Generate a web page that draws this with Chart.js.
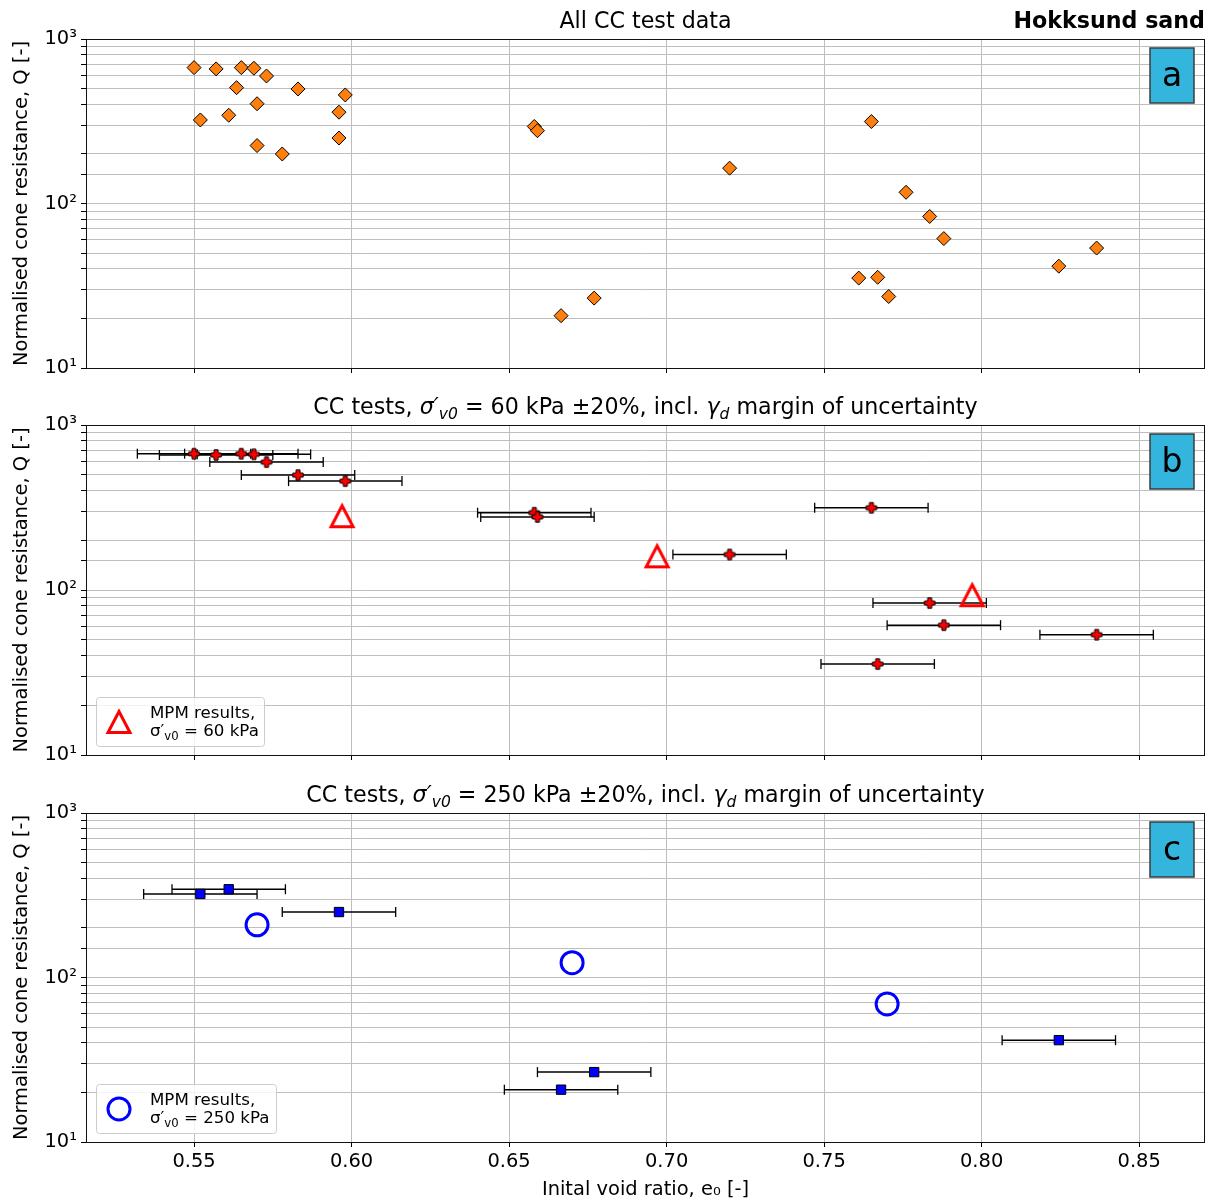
<!DOCTYPE html>
<html lang="en">
<head>
  <meta charset="UTF-8">
  <title>Hokksund sand - CC test data</title>
  <script src="https://cdn.jsdelivr.net/npm/chart.js@4"></script>
  <style>
    html, body { margin: 0; padding: 0; background: #fff; }
    #wrap { position: relative; width: 1214px; height: 1202px; }
    #wrap canvas { position: absolute; left: 0; }
    #panelA { top: 0; }
    #panelB { top: 390px; }
    #panelC { top: 780px; }
  </style>
</head>
<body>
  <div id="wrap">
    <canvas id="panelA" width="1214" height="390"></canvas>
    <canvas id="panelB" width="1214" height="390"></canvas>
    <canvas id="panelC" width="1214" height="422"></canvas>
  </div>

  <script>
    const FONT = "'DejaVu Sans', sans-serif";
    const LABEL_PX = 19.44;
    const TITLE_PX = 22.2;
    const LEGEND_PX = 16.67;
    const LETTER_PX = 33;

    // axis limits
    const X_MIN = 0.5157, X_MAX = 0.8709, X_STEP = 0.05;
    const Q_MIN = 10, Q_MAX = 1000;
    const Y_LABELS = { 10: '10¹', 100: '10²', 1000: '10³' };

    // all CC tests: initial void ratio e0 and normalised cone resistance Q
    const allE = [0.550, 0.557, 0.565, 0.569, 0.573, 0.5635, 0.583, 0.598, 0.570, 0.552,
                  0.561, 0.596, 0.596, 0.570, 0.578, 0.658, 0.659, 0.6665, 0.677, 0.720,
                  0.765, 0.776, 0.7835, 0.788, 0.761, 0.767, 0.7705, 0.8245, 0.8365];
    const allQ = [670, 658, 670, 664, 596, 506, 497, 457, 404, 322,
                  344, 359, 250, 225, 200, 294, 277, 20.8, 26.6, 164,
                  315, 117, 83.4, 61.2, 35.2, 35.6, 27.2, 41.6, 53.6];

    // CC tests at sigma'v0 = 60 kPa
    const e60 = [0.550, 0.557, 0.565, 0.569, 0.573, 0.583, 0.598, 0.658, 0.659, 0.720, 0.765, 0.7835, 0.788, 0.767, 0.8365];
    const q60 = [670, 658, 670, 664, 596, 497, 457, 294, 277, 164, 315, 83.4, 61.2, 35.6, 53.6];

    // CC tests at sigma'v0 = 250 kPa
    const e250 = [0.552, 0.561, 0.596, 0.6665, 0.677, 0.8245];
    const q250 = [322, 344, 250, 20.8, 26.6, 41.6];

    // MPM results
    const mpm60E = [0.597, 0.697, 0.797];
    const mpm60Q = [280, 160, 93];
    const mpm250E = [0.570, 0.670, 0.770];
    const mpm250Q = [209, 123, 69];

    // e0 margin from the gamma_d uncertainty
    const xErr = 0.018;

    // ---- marker images ----
    function plusMarker() {
      const c = document.createElement('canvas');
      c.width = 14; c.height = 14;
      const g = c.getContext('2d');
      const m = 7, a = 5.2, t = 2;
      const pts = [[-t,-a],[t,-a],[t,-t],[a,-t],[a,t],[t,t],[t,a],[-t,a],[-t,t],[-a,t],[-a,-t],[-t,-t]];
      g.beginPath();
      pts.forEach(([px, py], i) => i ? g.lineTo(m + px, m + py) : g.moveTo(m + px, m + py));
      g.closePath();
      g.fillStyle = '#ff0000';
      g.fill();
      g.lineWidth = 1;
      g.strokeStyle = '#000';
      g.stroke();
      return c;
    }

    function triangleMarker() {
      const c = document.createElement('canvas');
      c.width = 34; c.height = 32;
      const g = c.getContext('2d');
      const cx = 17, cy = 16, hw = 11, hh = 10.5;
      g.beginPath();
      g.moveTo(cx, cy - hh);
      g.lineTo(cx + hw, cy + hh);
      g.lineTo(cx - hw, cy + hh);
      g.closePath();
      g.lineWidth = 3;
      g.lineJoin = 'miter';
      g.strokeStyle = '#ff0000';
      g.stroke();
      return c;
    }

    const PLUS = plusMarker();
    const TRIANGLE = triangleMarker();

    // ---- text helpers ----
    function richFont(s, size) {
      const px = s.sub ? size * 0.7 : size;
      return (s.italic ? 'italic ' : '') + (s.bold ? 'bold ' : '') + px + 'px ' + FONT;
    }

    function drawRich(ctx, segs, x, y, size, align) {
      let total = 0;
      const widths = segs.map(s => {
        ctx.font = richFont(s, size);
        const w = ctx.measureText(s.t).width;
        total += w;
        return w;
      });
      let cx = align === 'center' ? x - total / 2 : align === 'right' ? x - total : x;
      ctx.textAlign = 'left';
      ctx.textBaseline = 'alphabetic';
      ctx.fillStyle = '#000';
      segs.forEach((s, i) => {
        ctx.font = richFont(s, size);
        ctx.fillText(s.t, cx, y + (s.sub ? size * 0.22 : 0));
        cx += widths[i];
      });
    }

    // frame, title, panel letter and legend for one panel
    function decorPlugin(d) {
      return {
        id: 'decor',
        afterDatasetsDraw(chart) {
          const { ctx, chartArea: a } = chart;
          ctx.save();
          ctx.strokeStyle = '#111';
          ctx.lineWidth = 1;
          ctx.strokeRect(Math.round(a.left) + 0.5, Math.round(a.top) + 0.5,
                         Math.round(a.right - a.left) - 1, Math.round(a.bottom - a.top));
          ctx.restore();
        },
        afterDraw(chart) {
          const { ctx, chartArea: a } = chart;
          ctx.save();

          drawRich(ctx, d.title, (a.left + a.right) / 2, a.top - 11, TITLE_PX, 'center');
          if (d.tag) drawRich(ctx, d.tag, a.right, a.top - 11, TITLE_PX, 'right');

          // panel letter box
          const bw = 44, bh = 55;
          const bx = a.right - 11 - bw, by = a.top + 9;
          ctx.fillStyle = '#33b5dd';
          ctx.fillRect(bx, by, bw, bh);
          ctx.strokeStyle = '#3c3c3c';
          ctx.lineWidth = 1.5;
          ctx.strokeRect(bx, by, bw, bh);
          ctx.fillStyle = '#000';
          ctx.font = LETTER_PX + 'px ' + FONT;
          ctx.textAlign = 'center';
          ctx.textBaseline = 'alphabetic';
          ctx.fillText(d.letter, bx + bw / 2, by + 37.5);

          if (d.legend) {
            const L = d.legend;
            const lh = 49;
            const lx = a.left + 10, ly = a.bottom - 9 - lh;
            ctx.beginPath();
            ctx.roundRect(lx + 0.5, ly + 0.5, L.width, lh, 3);
            ctx.fillStyle = 'rgba(255,255,255,0.8)';
            ctx.fill();
            ctx.strokeStyle = '#cccccc';
            ctx.lineWidth = 1;
            ctx.stroke();

            const mx = lx + 23, my = ly + lh / 2 + 0.5;
            if (L.marker === 'circle') {
              ctx.beginPath();
              ctx.arc(mx, my, 11, 0, Math.PI * 2);
              ctx.lineWidth = 3;
              ctx.strokeStyle = '#0000ff';
              ctx.stroke();
            } else {
              ctx.drawImage(L.marker, mx - L.marker.width / 2, my - L.marker.height / 2);
            }
            drawRich(ctx, L.lines[0], lx + 54, ly + 20.5, LEGEND_PX, 'left');
            drawRich(ctx, L.lines[1], lx + 54, ly + 39, LEGEND_PX, 'left');
          }
          ctx.restore();
        }
      };
    }

    // horizontal error bars as two-point line datasets with vertical caps
    function errorBars(es, qs) {
      return es.map((e, i) => ({
        data: [{ x: e - xErr, y: qs[i] }, { x: e + xErr, y: qs[i] }],
        showLine: true,
        borderColor: '#000',
        borderWidth: 1.5,
        pointStyle: 'line',
        rotation: 90,
        pointRadius: 5,
        pointBorderWidth: 1.3,
        pointBorderColor: '#000',
        order: 2
      }));
    }

    function points(es, qs) {
      return es.map((e, i) => ({ x: e, y: qs[i] }));
    }

    function panelOptions(p) {
      const tickFont = { family: FONT, size: LABEL_PX };
      return {
        responsive: false,
        animation: false,
        devicePixelRatio: 1,
        events: [],
        layout: { autoPadding: false, padding: { left: 0, right: 9, top: p.top, bottom: p.bottom } },
        plugins: { legend: { display: false }, tooltip: { enabled: false } },
        scales: {
          x: {
            type: 'linear',
            min: X_MIN,
            max: X_MAX,
            afterFit: s => { s.height = p.xHeight; },
            ticks: {
              display: p.showX,
              stepSize: X_STEP,
              includeBounds: false,
              autoSkip: false,
              maxRotation: 0,
              padding: 3,
              font: tickFont,
              color: '#000',
              callback: v => v.toFixed(2)
            },
            grid: { color: '#bdbdbd', lineWidth: 1, tickColor: '#000', tickLength: 5 },
            border: { display: false },
            title: {
              display: p.showX,
              text: 'Inital void ratio, e₀ [-]',
              font: tickFont,
              color: '#000',
              padding: { top: 0, bottom: 0 }
            }
          },
          y: {
            type: 'logarithmic',
            min: Q_MIN,
            max: Q_MAX,
            afterFit: s => { s.width = 86; },
            ticks: {
              autoSkip: false,
              padding: 4,
              font: tickFont,
              color: '#000',
              callback: v => Y_LABELS[v] || ''
            },
            grid: { color: '#bdbdbd', lineWidth: 1, tickColor: '#000', tickLength: 5 },
            border: { display: false },
            title: {
              display: true,
              text: 'Normalised cone resistance, Q [-]',
              font: tickFont,
              color: '#000',
              padding: { top: 10, bottom: 0 }
            }
          }
        }
      };
    }

    // ---- panel a: all tests ----
    new Chart(document.getElementById('panelA'), {
      type: 'scatter',
      data: {
        datasets: [{
          data: points(allE, allQ),
          pointStyle: 'rectRot',
          pointRadius: 7,
          backgroundColor: '#ff7f0e',
          borderColor: '#000',
          borderWidth: 1
        }]
      },
      options: panelOptions({ top: 39, bottom: 12, xHeight: 10, showX: false }),
      plugins: [decorPlugin({
        title: [{ t: 'All CC test data' }],
        tag: [{ t: 'Hokksund sand', bold: true }],
        letter: 'a'
      })]
    });

    // ---- panel b: 60 kPa ----
    new Chart(document.getElementById('panelB'), {
      type: 'scatter',
      data: {
        datasets: [
          {
            data: points(mpm60E, mpm60Q),
            pointStyle: TRIANGLE,
            pointRadius: 14,
            order: 0
          },
          {
            data: points(e60, q60),
            pointStyle: PLUS,
            pointRadius: 6,
            order: 1
          },
          ...errorBars(e60, q60)
        ]
      },
      options: panelOptions({ top: 35, bottom: 15, xHeight: 10, showX: false }),
      plugins: [decorPlugin({
        title: [
          { t: 'CC tests, ' }, { t: 'σ′', italic: true }, { t: 'v0', italic: true, sub: true },
          { t: ' = 60 kPa ±20%, incl. ' }, { t: 'γ', italic: true }, { t: 'd', italic: true, sub: true },
          { t: ' margin of uncertainty' }
        ],
        letter: 'b',
        legend: {
          marker: TRIANGLE,
          width: 168,
          lines: [[{ t: 'MPM results,' }], [{ t: 'σ′' }, { t: 'v0', sub: true }, { t: ' = 60 kPa' }]]
        }
      })]
    });

    // ---- panel c: 250 kPa ----
    new Chart(document.getElementById('panelC'), {
      type: 'scatter',
      data: {
        datasets: [
          {
            data: points(mpm250E, mpm250Q),
            pointStyle: 'circle',
            pointRadius: 11,
            borderWidth: 3,
            borderColor: '#0000ff',
            backgroundColor: 'rgba(0,0,0,0)',
            order: 0
          },
          {
            data: points(e250, q250),
            pointStyle: 'rect',
            pointRadius: 6.6,
            backgroundColor: '#0000ff',
            borderColor: '#000',
            borderWidth: 1,
            order: 1
          },
          ...errorBars(e250, q250)
        ]
      },
      options: panelOptions({ top: 33, bottom: 0, xHeight: 60, showX: true }),
      plugins: [decorPlugin({
        title: [
          { t: 'CC tests, ' }, { t: 'σ′', italic: true }, { t: 'v0', italic: true, sub: true },
          { t: ' = 250 kPa ±20%, incl. ' }, { t: 'γ', italic: true }, { t: 'd', italic: true, sub: true },
          { t: ' margin of uncertainty' }
        ],
        letter: 'c',
        legend: {
          marker: 'circle',
          width: 180,
          lines: [[{ t: 'MPM results,' }], [{ t: 'σ′' }, { t: 'v0', sub: true }, { t: ' = 250 kPa' }]]
        }
      })]
    });
  </script>
</body>
</html>
